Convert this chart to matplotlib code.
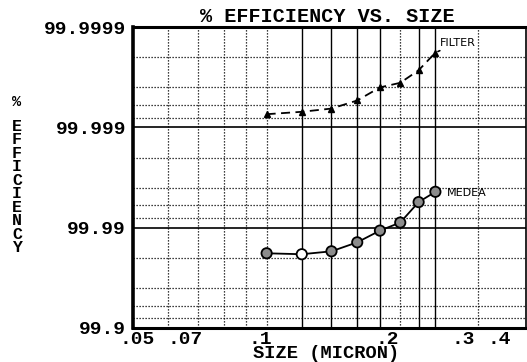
import matplotlib

matplotlib.use("Agg")
import matplotlib.pyplot as plt
import numpy as np

# particle size (micron) and collection efficiency (%)
size = [0.10, 0.12, 0.14, 0.16, 0.18, 0.20, 0.22, 0.24]
filter_eff = [99.99926, 99.99930, 99.99935, 99.99946, 99.99960, 99.99964, 99.99973, 99.99982]
medea_eff = [99.9820, 99.9816, 99.9828, 99.9860, 99.9893, 99.99111, 99.99444, 99.99561]

ytick_vals = [99.9, 99.99, 99.999, 99.9999]
ytick_labels = ["99.9", "99.99", "99.999", "99.9999"]
# tick labels sit where the old plotter printed them
xtick_pos = [0.0511, 0.0655, 0.0965, 0.187, 0.277, 0.334]
xtick_labels = [".05", ".07", ".1", ".2", ".3", ".4"]

x_dotted = [0.06, 0.07, 0.08, 0.09, 0.1, 0.2, 0.3]
x_solid = [0.12, 0.14, 0.16, 0.18, 0.22, 0.24]
y_minor_pen = [m * 10.0 ** k for k in (-4, -3, -2) for m in (2, 4, 6, 8)]
y_major = [99.99, 99.999]

MONO = ["Liberation Mono", "DejaVu Sans Mono"]
DOT = (0, (1, 1.4))


def fwd(e):
    return -np.log10(np.clip(100.0 - np.asarray(e, dtype=float), 1e-12, None))


def inv(v):
    return 100.0 - 10.0 ** (-np.asarray(v, dtype=float))


fig = plt.figure(figsize=(5.27, 3.62), dpi=100)
ax = fig.add_axes([133 / 527, 1 - 328 / 362, 393 / 527, 301 / 362])
ax.set_xscale("log")
ax.set_yscale("function", functions=(fwd, inv))
ax.set_xlim(0.05, 0.384)
ax.set_ylim(99.9, 99.9999)

for xv in x_dotted:
    ax.axvline(xv, color="black", lw=0.9, ls=DOT, zorder=1)
for xv in x_solid:
    ax.axvline(xv, color="black", lw=1.0, zorder=1)
for p in y_minor_pen:
    ax.axhline(100 - p, color="black", lw=0.9, ls=DOT, zorder=1)
for yv in y_major:
    ax.axhline(yv, color="black", lw=1.2, zorder=1)

ax.plot(size, filter_eff, color="black", lw=1.3, ls=(0, (5, 3)),
        marker="^", markersize=5, zorder=3)
ax.plot(size, medea_eff, color="black", lw=1.3, zorder=3)
faces = ["#8c8c8c"] * len(size)
faces[1] = "white"
ax.scatter(size, medea_eff, s=55, facecolors=faces, edgecolors="black",
           linewidths=1.3, zorder=4)

ax.annotate("FILTER", xy=(size[-1], filter_eff[-1]), xytext=(16, 7),
            textcoords="offset points", fontsize=8, ha="center", va="center",
            arrowprops=dict(arrowstyle="-", color="black", lw=1.2,
                            shrinkA=4, shrinkB=2))
ax.annotate("MEDEA", xy=(size[-1], medea_eff[-1]), xytext=(8, -1),
            textcoords="offset points", fontsize=8, ha="left", va="center")

ax.set_xticks(xtick_pos, xtick_labels)
ax.set_yticks(ytick_vals, ytick_labels)
ax.minorticks_off()
ax.tick_params(axis="y", length=0, pad=5)
ax.tick_params(axis="x", length=0, pad=2)
for lab in ax.get_xticklabels() + ax.get_yticklabels():
    lab.set_fontfamily(MONO)
    lab.set_fontsize(14)
    lab.set_fontweight("bold")

for side, w in (("left", 2.6), ("top", 2.2), ("bottom", 2.2), ("right", 1.2)):
    ax.spines[side].set_linewidth(w)
    ax.spines[side].set_color("black")

fig.text(327 / 527, 1 - 17 / 362, "% EFFICIENCY VS. SIZE", ha="center", va="center",
         family=MONO, fontsize=14.5, fontweight="bold")
fig.text(326 / 527, 0.0, "SIZE (MICRON)", ha="center", va="bottom",
         family=MONO, fontsize=13.5, fontweight="bold")
fig.text(17 / 527, 1 - 102 / 362, "%", ha="center", va="center",
         family=MONO, fontsize=11, fontweight="bold")
fig.text(17 / 527, 1 - 187 / 362, "\n".join("EFFICIENCY"), ha="center", va="center",
         family=MONO, fontsize=12, fontweight="bold", linespacing=0.87)

fig.savefig("out.png", dpi=100)
